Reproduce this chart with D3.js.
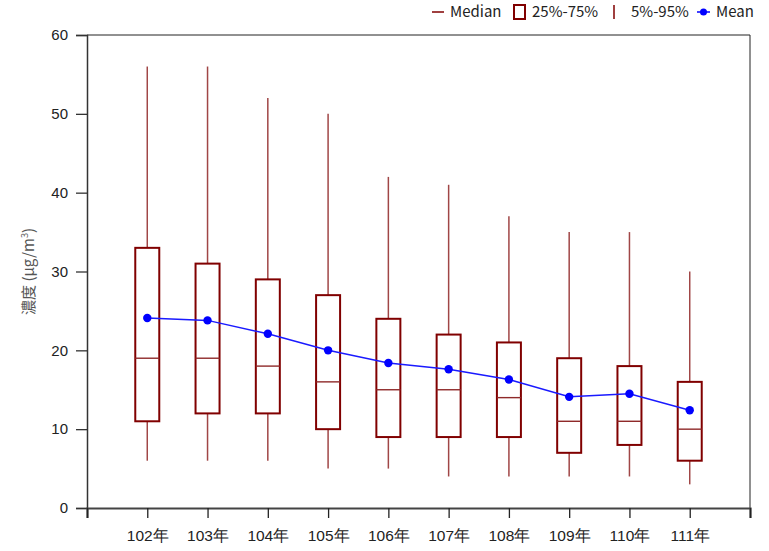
<!DOCTYPE html>
<html><head><meta charset="utf-8">
<script src="https://cdn.jsdelivr.net/npm/d3@7"></script>
<style>body{margin:0;background:#fff}svg{display:block;font-family:"Noto Sans CJK TC","Noto Sans",sans-serif}</style>
</head><body><svg id="c" width="769" height="551"></svg>
<script>
const categories = ["102年","103年","104年","105年","106年","107年","108年","109年","110年","111年"];
const p5   = [6, 6, 6, 5, 5, 4, 4, 4, 4, 3];
const p25  = [11, 12, 12, 10, 9, 9, 9, 7, 8, 6];
const median = [19, 19, 18, 16, 15, 15, 14, 11, 11, 10];
const p75  = [33, 31, 29, 27, 24, 22, 21, 19, 18, 16];
const p95  = [56, 56, 52, 50, 42, 41, 37, 35, 35, 30];
const mean = [24.1, 23.8, 22.1, 20.0, 18.4, 17.6, 16.3, 14.1, 14.5, 12.4];
const yTicks = [0, 10, 20, 30, 40, 50, 60];

const svg = d3.select("#c");
const L = 87, R = 750, T = 35, B = 508;
const x = d3.scaleLinear().domain([0, categories.length + 1]).range([L, R]);
const y = d3.scaleLinear().domain([0, 60]).range([B, T]);
const boxW = 24;
const dark = "#800000", whisk = "#a04646";

// frame top/right
svg.append("line").attr("x1",L).attr("x2",R).attr("y1",T).attr("y2",T).attr("stroke","#222").attr("stroke-width",1);
svg.append("line").attr("x1",R).attr("x2",R).attr("y1",T).attr("y2",B).attr("stroke","#222").attr("stroke-width",1);

// y axis
const ya = svg.append("g").attr("transform",`translate(${L},0)`)
  .call(d3.axisLeft(y).tickValues(yTicks).tickSize(11).tickPadding(8));
ya.select(".domain").attr("stroke","#333").attr("stroke-width",1.5);
ya.selectAll(".tick line").attr("stroke","#333").attr("stroke-width",1.3);
ya.selectAll("text").attr("font-size",15).attr("fill","#222");

// x axis
const xa = svg.append("g").attr("transform",`translate(0,${B})`)
  .call(d3.axisBottom(x).tickValues(d3.range(0, categories.length + 2)).tickSize(10).tickPadding(12)
    .tickFormat(i => (i >= 1 && i <= categories.length) ? categories[i-1] : ""));
xa.select(".domain").attr("stroke","#444").attr("stroke-width",2.2);
xa.selectAll(".tick line").attr("stroke","#222").attr("stroke-width",1.3);
xa.selectAll("text").attr("font-size",15.5).attr("fill","#222");

// y title
svg.append("text").attr("transform",`translate(34,${(T+B)/2}) rotate(-90)`)
  .attr("text-anchor","middle").attr("font-size",15).attr("fill","#555")
  .html('濃度 (μg/m<tspan baseline-shift="super" font-size="9">3</tspan>)');

const g = svg.append("g");
categories.forEach((c, i) => {
  const cx = x(i + 1);
  g.append("line").attr("x1",cx).attr("x2",cx).attr("y1",y(p95[i])).attr("y2",y(p75[i])).attr("stroke",whisk).attr("stroke-width",1.5);
  g.append("line").attr("x1",cx).attr("x2",cx).attr("y1",y(p25[i])).attr("y2",y(p5[i])).attr("stroke",whisk).attr("stroke-width",1.5);
  g.append("rect").attr("x",cx - boxW/2).attr("y",y(p75[i])).attr("width",boxW).attr("height",y(p25[i]) - y(p75[i]))
    .attr("fill","#fff").attr("stroke",dark).attr("stroke-width",2);
  g.append("line").attr("x1",cx - boxW/2).attr("x2",cx + boxW/2).attr("y1",y(median[i])).attr("y2",y(median[i])).attr("stroke","#8f2a2a").attr("stroke-width",1.4);
});

const line = d3.line().x((d,i) => x(i + 1)).y(d => y(d));
svg.append("path").datum(mean).attr("d", line).attr("fill","none").attr("stroke","#1a1aff").attr("stroke-width",1.5);
svg.selectAll("circle.m").data(mean).join("circle").attr("class","m")
  .attr("cx",(d,i) => x(i + 1)).attr("cy", d => y(d)).attr("r",4.2).attr("fill","#0000ff");

// legend
const lg = svg.append("g").attr("font-size",15).attr("fill","#222");
const ly = 12;
lg.append("line").attr("x1",432).attr("x2",444).attr("y1",ly).attr("y2",ly).attr("stroke",dark).attr("stroke-width",1.5);
lg.append("text").attr("x",450).attr("y",ly+5).text("Median");
lg.append("rect").attr("x",514).attr("y",ly-7).attr("width",11).attr("height",14).attr("fill","#fff").attr("stroke",dark).attr("stroke-width",2);
lg.append("text").attr("x",532).attr("y",ly+5).text("25%-75%");
lg.append("line").attr("x1",614).attr("x2",614).attr("y1",ly-7).attr("y2",ly+7).attr("stroke",dark).attr("stroke-width",1.5);
lg.append("text").attr("x",631).attr("y",ly+5).text("5%-95%");
lg.append("line").attr("x1",697).attr("x2",710).attr("y1",ly).attr("y2",ly).attr("stroke","#0000ff").attr("stroke-width",1.5);
lg.append("circle").attr("cx",703.5).attr("cy",ly).attr("r",3.5).attr("fill","#0000ff");
lg.append("text").attr("x",716).attr("y",ly+5).text("Mean");
</script></body></html>
